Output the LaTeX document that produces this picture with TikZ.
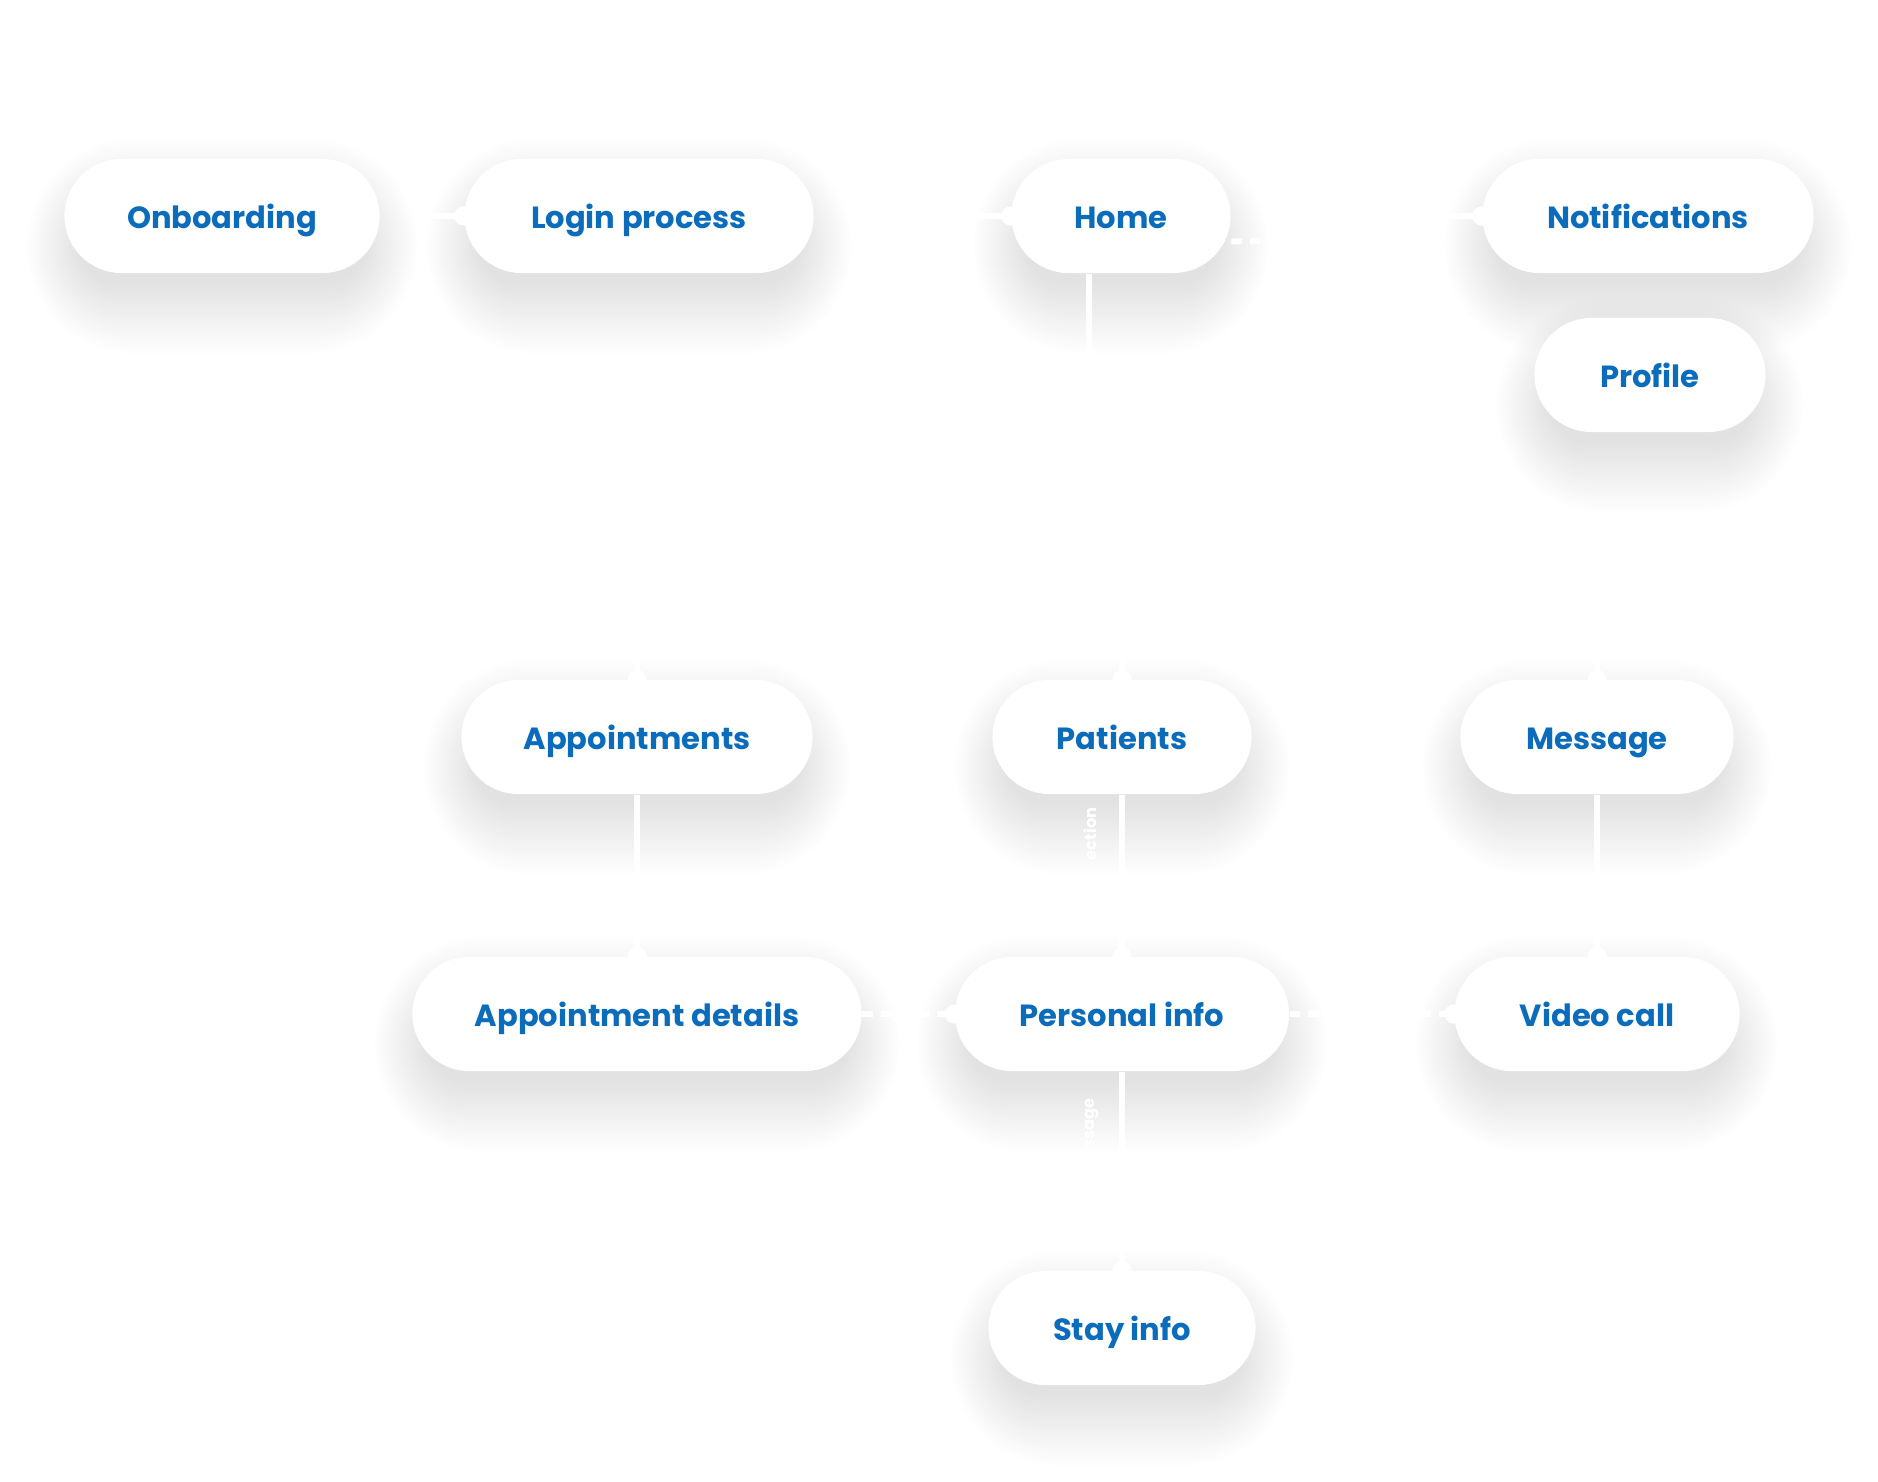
\documentclass[tikz,border=0pt]{standalone}
\usepackage{fontspec}
\setmainfont{Poppins}
\usepackage{tikz}
\usetikzlibrary{arrows.meta, calc}

\definecolor{flowblue}{HTML}{0B6CBC}

\pgfdeclarelayer{shade}
\pgfsetlayers{shade,main}

\tikzset{
    screen/.style={rectangle, rounded corners=0.57cm, fill=white,
        minimum height=1.14cm, inner sep=0pt, text=flowblue,
        text height=0.7em, text depth=0pt,
        font=\bfseries\fontsize{8.7}{10}\selectfont},
    link/.style={draw=white, line width=1.7pt, -{Circle[length=5.4pt]}, shorten >=-2.7pt},
    dlink/.style={link, dash pattern=on 3pt off 2.3pt},
    tag/.style={text=white, font=\bfseries\fontsize{4.6}{5}\selectfont,
        rotate=90, anchor=east, inner sep=0pt}
}

\begin{document}
\begin{tikzpicture}[x=0.01cm, y=-0.01cm]
        \useasboundingbox (0,0) rectangle (1878,1482);

        \node[screen, minimum width=3.15cm] (onboard) at (222,216) {Onboarding};
        \node[screen, minimum width=3.49cm] (login) at (639,216) {Login process};
        \node[screen, minimum width=2.19cm] (home) at (1121,216) {Home};
        \node[screen, minimum width=3.31cm] (notif) at (1648,216) {Notifications};
        \node[screen, minimum width=2.31cm] (profile) at (1650,375) {Profile};

        \node[screen, minimum width=3.51cm] (appts) at (637,737) {Appointments};
        \node[screen, minimum width=2.59cm] (patients) at (1122,737) {Patients};
        \node[screen, minimum width=2.73cm] (message) at (1597,737) {Message};

        \node[screen, minimum width=4.49cm] (adetails) at (637,1014) {Appointment details};
        \node[screen, minimum width=3.34cm] (pinfo) at (1122,1014) {Personal info};
        \node[screen, minimum width=2.85cm] (video) at (1597,1014) {Video call};

        \node[screen, minimum width=2.67cm] (stay) at (1122,1328) {Stay info};

        % soft drop shadows
        \begin{pgfonlayer}{shade}
            \fill[white] (0,0) rectangle (1878,1482);
            \foreach \n in {onboard,login,home,notif,profile,appts,patients,message,adetails,pinfo,video,stay}
                \foreach \s in {-20,-17.5,...,50}
                    \fill[black, fill opacity=0.0055, rounded corners={(57+\s)*0.01cm}]
                        ($(\n.north west)+(-0.75*\s,30-\s)$) rectangle ($(\n.south east)+(0.75*\s,30+\s)$);
        \end{pgfonlayer}

        \coordinate (split) at (1089,560);
        \coordinate (homeout) at (1290,241);

        \draw[link, shorten <=0.45cm] (onboard) -- (login);
        \draw[link, shorten <=0.45cm] (login) -- (home);
        \draw[link, shorten <=0.45cm] (home) -- (notif);
        \draw[dlink, -] (home.-13) -- (homeout);

        \draw[link, -] (home.south -| split) -- (split);
        \draw[link] (split) -| (appts);
        \draw[link] (split) -| (patients);
        \draw[link] (split) -| (message);

        \draw[link] (appts) -- (adetails);
        \draw[link] (patients) -- (pinfo);
        \draw[link] (message) -- (video);
        \draw[link] (pinfo) -- (stay);

        \draw[dlink] (adetails) -- (pinfo);
        \draw[dlink] (pinfo) -- (video);

        \node[tag] (seltag) at (1090,807) {ection};
        \node[tag] (msgtag) at (1092,1098) {ssage};
    \end{tikzpicture}
\end{document}
